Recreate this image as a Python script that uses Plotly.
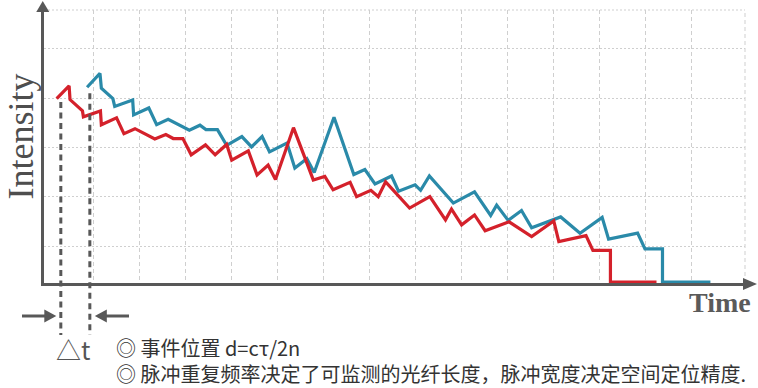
import plotly.graph_objects as go

# ---------------- data (time / intensity in grid units) ----------------
red_time = [0.21, 0.48, 0.50, 0.77, 0.79, 1.16, 1.18, 1.51, 1.67, 1.91,
            2.34, 2.58, 2.74, 2.95, 3.13, 3.44, 3.65, 3.90, 4.01, 4.37,
            4.56, 4.80, 4.96, 5.35, 5.78, 6.03, 6.21, 6.58, 6.72, 7.03,
            7.19, 7.35, 7.87, 8.31, 8.65, 8.78, 9.00, 9.28, 9.51, 10.03,
            10.52, 11.00, 11.11, 11.70, 11.85, 12.23, 12.23, 13.23]
red_intensity = [3.99, 4.25, 3.97, 3.74, 3.62, 3.74, 3.46, 3.60, 3.28, 3.38,
                 3.17, 3.26, 3.18, 3.18, 2.85, 3.05, 2.85, 3.06, 2.74, 2.93,
                 2.44, 2.64, 2.35, 3.40, 2.34, 2.41, 2.14, 2.29, 2.00, 2.13,
                 2.00, 2.30, 1.77, 2.00, 1.53, 1.75, 1.43, 1.63, 1.31, 1.49,
                 1.19, 1.51, 1.09, 1.21, 0.91, 0.91, 0.27, 0.27]

blue_time = [0.87, 1.15, 1.18, 1.43, 1.47, 1.86, 1.88, 2.21, 2.38, 2.63,
             3.09, 3.32, 3.45, 3.70, 3.90, 4.23, 4.44, 4.67, 4.83, 5.21,
             5.38, 5.64, 5.80, 6.23, 6.66, 6.90, 7.12, 7.48, 7.63, 7.99,
             8.11, 8.30, 8.82, 9.28, 9.63, 9.76, 10.01, 10.30, 10.52, 11.15,
             11.57, 12.05, 12.19, 12.82, 12.98, 13.36, 13.36, 14.40]
blue_intensity = [4.22, 4.50, 4.20, 3.99, 3.83, 3.96, 3.66, 3.80, 3.46, 3.57,
                  3.35, 3.45, 3.36, 3.36, 3.04, 3.22, 3.01, 3.22, 2.91, 3.09,
                  2.58, 2.77, 2.49, 3.61, 2.45, 2.55, 2.26, 2.42, 2.11, 2.24,
                  2.13, 2.42, 1.87, 2.10, 1.62, 1.83, 1.52, 1.72, 1.37, 1.59,
                  1.26, 1.58, 1.14, 1.26, 0.94, 0.94, 0.27, 0.27]

grid_time = [1, 2, 3, 4, 5, 6, 7, 8, 9, 10, 11, 12, 13, 14]
grid_intensity = [1, 2, 3, 4, 5]

event_time = [0.30, 0.93]      # start of each pulse response (dashed markers)
event_top = [3.92, 4.10]

x_title = "Time"
y_title = "Intensity"
delta_label = "△t"
note_lines = ["◎ 事件位置 d=cτ/2n",
              "◎ 脉冲重复频率决定了可监测的光纤长度，脉冲宽度决定空间定位精度."]

# ---------------- layout geometry ----------------
W, H = 758, 388
ML, MR, MT, MB = 44, 13, 10, 105
PW, PH = W - ML - MR, H - MT - MB
X_RANGE = [-0.065, 15.151]
Y_RANGE = [0.2495, 5.787]

AXIS_COLOR = "#585858"
GRID_COLOR = "#cfcfcf"
RED = "#d4212b"
BLUE = "#2a8aa9"


def xp(px):
    return (px - ML) / PW


def yp(py):
    return (H - MB - py) / PH


def tx(t):
    return (t - X_RANGE[0]) / (X_RANGE[1] - X_RANGE[0])


def iy(v):
    return (v - Y_RANGE[0]) / (Y_RANGE[1] - Y_RANGE[0])


def tri(points):
    (a, b), (c, d), (e, f) = points
    return f"M {a},{b} L {c},{d} L {e},{f} Z"


fig = go.Figure()
fig.add_trace(go.Scatter(x=blue_time, y=blue_intensity, mode="lines",
                         line=dict(color=BLUE, width=3.2), hoverinfo="skip",
                         showlegend=False))
fig.add_trace(go.Scatter(x=red_time, y=red_intensity, mode="lines",
                         line=dict(color=RED, width=3.2), hoverinfo="skip",
                         showlegend=False))

shapes = []
# top & right plot borders (light dotted)
shapes.append(dict(type="line", xref="paper", yref="paper", x0=0, x1=1, y0=1, y1=1,
                   line=dict(color=GRID_COLOR, width=1, dash="2px,2px"), layer="below"))
shapes.append(dict(type="line", xref="paper", yref="paper", x0=1, x1=1, y0=0, y1=1,
                   line=dict(color=GRID_COLOR, width=1, dash="4px,3px"), layer="below"))

# axis arrow heads
ax_x = xp(42.75)
shapes.append(dict(type="path", xref="paper", yref="paper",
                   path=tri([(xp(42.75 - 6.5), yp(12)), (xp(42.75 + 6.5), yp(12)), (ax_x, yp(1))]),
                   fillcolor=AXIS_COLOR, line=dict(width=0)))
shapes.append(dict(type="path", xref="paper", yref="paper",
                   path=tri([(xp(743), yp(284 - 6)), (xp(743), yp(284 + 6)), (xp(757), yp(284))]),
                   fillcolor=AXIS_COLOR, line=dict(width=0)))

# dashed event markers
bottom_py = 335
for t, top in zip(event_time, event_top):
    shapes.append(dict(type="line", xref="paper", yref="paper",
                       x0=tx(t), x1=tx(t), y0=iy(top), y1=yp(bottom_py),
                       line=dict(color=AXIS_COLOR, width=3, dash="6px,4.5px")))

# bottom arrows pointing at the markers
arrow_py = 316
x_left_marker = ML + tx(event_time[0]) * PW
x_right_marker = ML + tx(event_time[1]) * PW
tipL = x_left_marker - 4.5
shapes.append(dict(type="line", xref="paper", yref="paper",
                   x0=xp(22), x1=xp(tipL - 10), y0=yp(arrow_py), y1=yp(arrow_py),
                   line=dict(color=AXIS_COLOR, width=3)))
shapes.append(dict(type="path", xref="paper", yref="paper",
                   path=tri([(xp(tipL - 12), yp(arrow_py - 6.5)), (xp(tipL - 12), yp(arrow_py + 6.5)),
                             (xp(tipL), yp(arrow_py))]),
                   fillcolor=AXIS_COLOR, line=dict(width=0)))
tipR = x_right_marker + 5
shapes.append(dict(type="line", xref="paper", yref="paper",
                   x0=xp(tipR + 10), x1=xp(129), y0=yp(arrow_py), y1=yp(arrow_py),
                   line=dict(color=AXIS_COLOR, width=3)))
shapes.append(dict(type="path", xref="paper", yref="paper",
                   path=tri([(xp(tipR + 12), yp(arrow_py - 6.5)), (xp(tipR + 12), yp(arrow_py + 6.5)),
                             (xp(tipR), yp(arrow_py))]),
                   fillcolor=AXIS_COLOR, line=dict(width=0)))

annotations = [
    dict(text=y_title, xref="paper", yref="paper", x=xp(20), y=yp(136.5),
         showarrow=False, textangle=-90, xanchor="center", yanchor="middle",
         font=dict(family="Liberation Serif, serif", size=36, color="#4e4e4e")),
    dict(text="<b>" + x_title + "</b>", xref="paper", yref="paper", x=xp(720), y=yp(302),
         showarrow=False, xanchor="center", yanchor="middle",
         font=dict(family="Liberation Serif, serif", size=28, color="#5a5a5a")),
    dict(text=delta_label, xref="paper", yref="paper", x=xp(73), y=yp(349),
         showarrow=False, xanchor="center", yanchor="middle",
         font=dict(family="Noto Sans CJK SC, sans-serif", size=25, color="#555555")),
    dict(text="<br>".join(note_lines), xref="paper", yref="paper", x=xp(114), y=yp(361),
         showarrow=False, xanchor="left", yanchor="middle", align="left",
         font=dict(family="Noto Sans CJK SC, sans-serif", size=20, color="#333333")),
]

fig.update_layout(
    width=W, height=H, autosize=False,
    margin=dict(l=ML, r=MR, t=MT, b=MB, pad=0),
    paper_bgcolor="white", plot_bgcolor="white",
    shapes=shapes, annotations=annotations,
    xaxis=dict(range=X_RANGE, tickmode="array", tickvals=grid_time, showticklabels=False,
               ticks="", showgrid=True, gridcolor=GRID_COLOR, gridwidth=1, griddash="4px,3px",
               zeroline=False, showline=True, linecolor=AXIS_COLOR, linewidth=2.5,
               layer="below traces", fixedrange=True),
    yaxis=dict(range=Y_RANGE, tickmode="array", tickvals=grid_intensity, showticklabels=False,
               ticks="", showgrid=True, gridcolor=GRID_COLOR, gridwidth=1, griddash="2px,2px",
               zeroline=False, showline=True, linecolor=AXIS_COLOR, linewidth=2.5,
               layer="below traces", fixedrange=True),
)

fig.write_html("out.html", config={"displayModeBar": False},
               post_script="document.body.style.margin='0';")
